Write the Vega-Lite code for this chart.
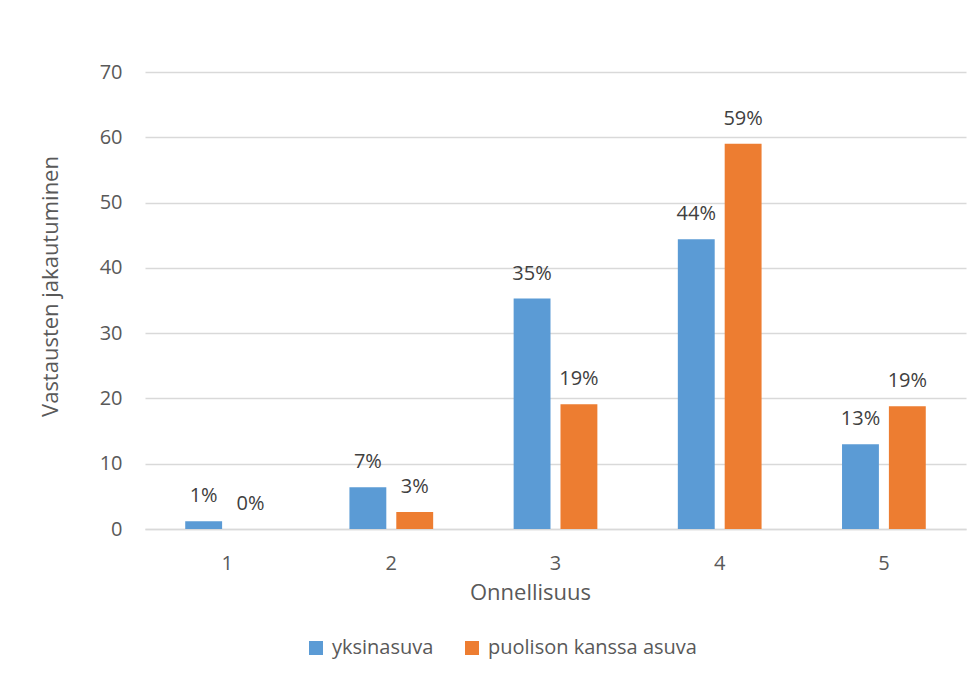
{
  "$schema": "https://vega.github.io/schema/vega-lite/v6.json",
  "width": 821,
  "height": 457,
  "autosize": {"type": "none"},
  "padding": {"left": 145, "top": 72, "right": 13, "bottom": 153},
  "background": "white",
  "config": {
    "font": "Open Sans",
    "view": {"stroke": null}
  },
  "data": {
    "values": [
      {"Onnellisuus": "1", "ryhma": "yksinasuva", "arvo": 1.2, "label": "1%"},
      {"Onnellisuus": "1", "ryhma": "puolison kanssa asuva", "arvo": 0, "label": "0%"},
      {"Onnellisuus": "2", "ryhma": "yksinasuva", "arvo": 6.4, "label": "7%"},
      {"Onnellisuus": "2", "ryhma": "puolison kanssa asuva", "arvo": 2.6, "label": "3%"},
      {"Onnellisuus": "3", "ryhma": "yksinasuva", "arvo": 35.3, "label": "35%"},
      {"Onnellisuus": "3", "ryhma": "puolison kanssa asuva", "arvo": 19.1, "label": "19%"},
      {"Onnellisuus": "4", "ryhma": "yksinasuva", "arvo": 44.4, "label": "44%"},
      {"Onnellisuus": "4", "ryhma": "puolison kanssa asuva", "arvo": 59.0, "label": "59%"},
      {"Onnellisuus": "5", "ryhma": "yksinasuva", "arvo": 13.0, "label": "13%"},
      {"Onnellisuus": "5", "ryhma": "puolison kanssa asuva", "arvo": 18.8, "label": "19%"}
    ]
  },
  "encoding": {
    "x": {
      "field": "Onnellisuus",
      "type": "nominal",
      "scale": {"paddingInner": 0.49, "paddingOuter": 0.245},
      "axis": {
        "labelAngle": 0,
        "ticks": false,
        "labelPadding": 24,
        "labelFontSize": 20,
        "labelColor": "#595959",
        "labelFont": "Open Sans",
        "domainColor": "#d9d9d9",
        "domainWidth": 1.5,
        "title": "Onnellisuus",
        "titleFontSize": 22,
        "titleFontWeight": "normal",
        "titleColor": "#595959",
        "titleFont": "Open Sans",
        "titleBaseline": "alphabetic",
        "titleX": 385,
        "titleY": 70
      }
    },
    "xOffset": {
      "field": "ryhma",
      "type": "nominal",
      "sort": ["yksinasuva", "puolison kanssa asuva"],
      "scale": {"paddingInner": 0.213}
    },
    "y": {
      "field": "arvo",
      "type": "quantitative",
      "scale": {"domain": [0, 70], "nice": false},
      "axis": {
        "values": [0, 10, 20, 30, 40, 50, 60, 70],
        "domain": false,
        "ticks": false,
        "gridColor": "#d9d9d9",
        "gridWidth": 1.5,
        "labelPadding": 23,
        "labelFontSize": 20,
        "labelColor": "#595959",
        "labelFont": "Open Sans",
        "title": "Vastausten jakautuminen",
        "titleFontSize": 22,
        "titleFontWeight": "normal",
        "titleColor": "#595959",
        "titleFont": "Open Sans",
        "titleAngle": -90,
        "titleAlign": "center",
        "titleBaseline": "alphabetic",
        "titleX": -88,
        "titleY": 214
      }
    }
  },
  "layer": [
    {
      "mark": {"type": "bar"},
      "encoding": {
        "color": {
          "field": "ryhma",
          "type": "nominal",
          "scale": {"domain": ["yksinasuva", "puolison kanssa asuva"], "range": ["#5B9BD5", "#ED7D31"]},
          "legend": {
            "title": null,
            "orient": "none",
            "direction": "horizontal",
            "legendX": 161,
            "legendY": 566,
            "padding": 0,
            "symbolType": "square",
            "symbolSize": 196,
            "symbolStrokeWidth": 0,
            "labelFontSize": 20,
            "labelColor": "#595959",
            "labelFont": "Open Sans",
            "labelOffset": 6,
            "labelLimit": 400,
            "columnPadding": 28
          }
        }
      }
    },
    {
      "mark": {"type": "text", "dy": -19, "baseline": "alphabetic", "fontSize": 20, "color": "#404040", "font": "Open Sans"},
      "encoding": {
        "text": {"field": "label"}
      }
    }
  ]
}
